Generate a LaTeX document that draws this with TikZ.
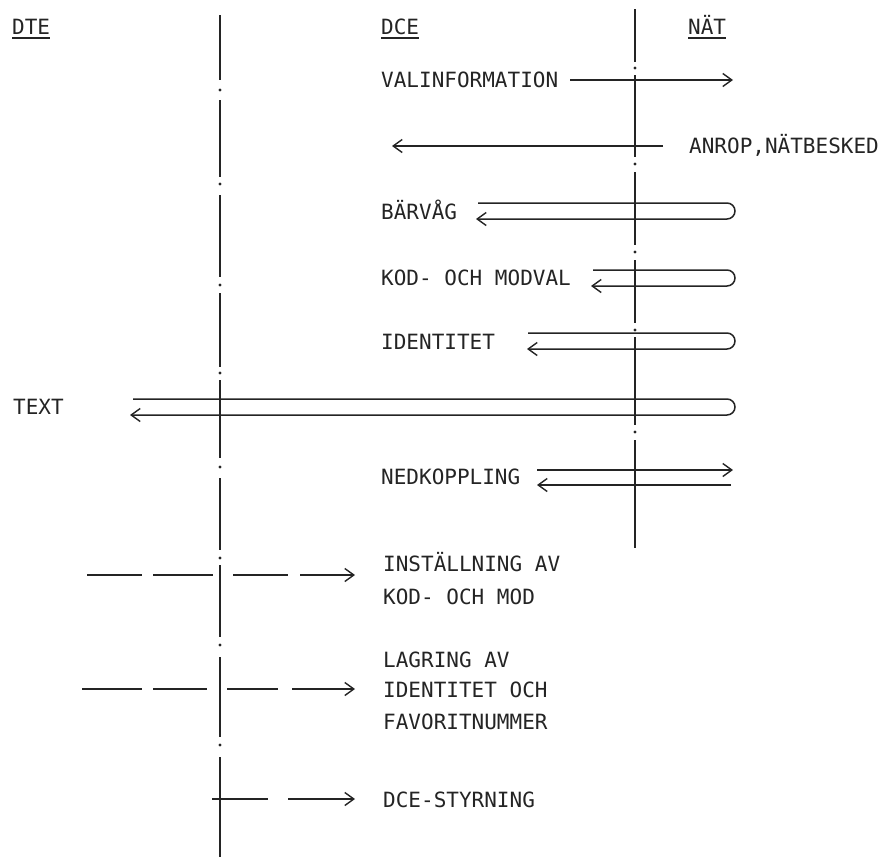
\documentclass[tikz,border=0pt]{standalone}
\usepackage{fontspec}
\newfontfamily\tw{DejaVu Sans Mono}
\usetikzlibrary{arrows.meta}
\definecolor{ink}{rgb}{0.14,0.14,0.14}
\begin{document}
\begin{tikzpicture}[x=1pt,y=-1pt,
  lbl/.style={font=\tw\fontsize{21}{25}\selectfont, text=ink, inner sep=0pt, anchor=west, text height=15pt, text depth=0pt},
  vline/.style={line width=2.6pt, draw=ink},
  ul/.style={line width=1.6pt, draw=ink},
  sig/.style={line width=1.5pt, draw=ink, -{Straight Barb[length=9pt,width=13pt,line width=1.4pt]}},
  dsig/.style={line width=1.8pt, draw=ink, -{Straight Barb[length=9pt,width=13pt,line width=1.4pt]}}]
\useasboundingbox (0,0) rectangle (886,857);

% life lines
\foreach \a/\b in {15/80,100/177,195/277,293/367,380/458,478/550,565/637,657/737,757/857}
  \draw[vline] (220,\a) -- (220,\b);
\foreach \d in {90,184,285,373,467,558,645,745}
  \fill[ink] (220,\d) circle (1.7pt);
\foreach \a/\b in {9/62,75/157,172/245,260/323,337/425,440/548}
  \draw[vline] (635,\a) -- (635,\b);
\foreach \d in {68,164,252,330,432}
  \fill[ink] (635,\d) circle (1.7pt);

% headers
\node[lbl] (dte) at (12,27) {DTE};
\node[lbl] (dce) at (381,27) {DCE};
\node[lbl] (nat) at (688,27) {NÄT};
\foreach \h in {dte,dce,nat}
  \draw[ul] ([yshift=-3.5pt]\h.south west) -- ([yshift=-3.5pt]\h.south east);

\coordinate (turn) at (727,0);

% VALINFORMATION
\node[lbl] (val) at (381,80) {VALINFORMATION};
\coordinate (valE) at (733,80);
\draw[sig] ([xshift=12pt]val.east) -- (valE);

% ANROP
\node[lbl] (anr) at (689,146) {ANROP,NÄTBESKED};
\coordinate (anrW) at (392,146);
\draw[sig] ([xshift=-26pt]anr.west) -- (anrW);

% BÄRVÅG
\node[lbl] (bar) at (381,212) {BÄRVÅG};
\coordinate (barS) at (478,203);
\coordinate (barT) at (476,219);
\draw[sig] (barS) -- (barS -| turn) arc (90:-90:8pt) -- (barT);

% KOD- OCH MODVAL
\node[lbl] (kod) at (381,278) {KOD- OCH MODVAL};
\coordinate (kodS) at (593,270);
\coordinate (kodT) at (591,286);
\draw[sig] (kodS) -- (kodS -| turn) arc (90:-90:8pt) -- (kodT);

% IDENTITET
\node[lbl] (idt) at (381,342) {IDENTITET};
\coordinate (idtS) at (528,333);
\coordinate (idtT) at (527,349);
\draw[sig] (idtS) -- (idtS -| turn) arc (90:-90:8pt) -- (idtT);

% TEXT
\node[lbl] (txt) at (13,407) {TEXT};
\coordinate (txtS) at (133,399);
\coordinate (txtT) at (130,415);
\draw[sig] (txtS) -- (txtS -| turn) arc (90:-90:8pt) -- (txtT);

% NEDKOPPLING
\node[lbl] (ned) at (381,477) {NEDKOPPLING};
\coordinate (nedA) at (537,470);
\coordinate (nedB) at (733,470);
\coordinate (nedC) at (731,485);
\coordinate (nedD) at (537,485);
\draw[sig] (nedA) -- (nedB);
\draw[sig] (nedC) -- (nedD);

% local functions
\node[lbl] (ins1) at (383,564) {INSTÄLLNING AV};
\node[lbl] (ins2) at (383,597) {KOD- OCH MOD};
\coordinate (d1s) at (87,575);
\coordinate (d1e) at (355,575);
\draw[dsig, dash pattern=on 55pt off 11pt on 60pt off 20pt on 55pt off 12pt on 60pt off 0pt] (d1s) -- (d1e);

\node[lbl] (lag1) at (383,660) {LAGRING AV};
\node[lbl] (lag2) at (383,690) {IDENTITET OCH};
\node[lbl] (lag3) at (383,722) {FAVORITNUMMER};
\coordinate (d2s) at (82,689);
\coordinate (d2e) at (355,689);
\draw[dsig, dash pattern=on 60pt off 11pt on 54pt off 20pt on 51pt off 14pt on 70pt off 0pt] (d2s) -- (d2e);

\node[lbl] (sty) at (383,800) {DCE-STYRNING};
\coordinate (d3s) at (212,799);
\coordinate (d3e) at (355,799);
\draw[dsig, dash pattern=on 56pt off 20pt on 80pt off 0pt] (d3s) -- (d3e);
\end{tikzpicture}
\end{document}
